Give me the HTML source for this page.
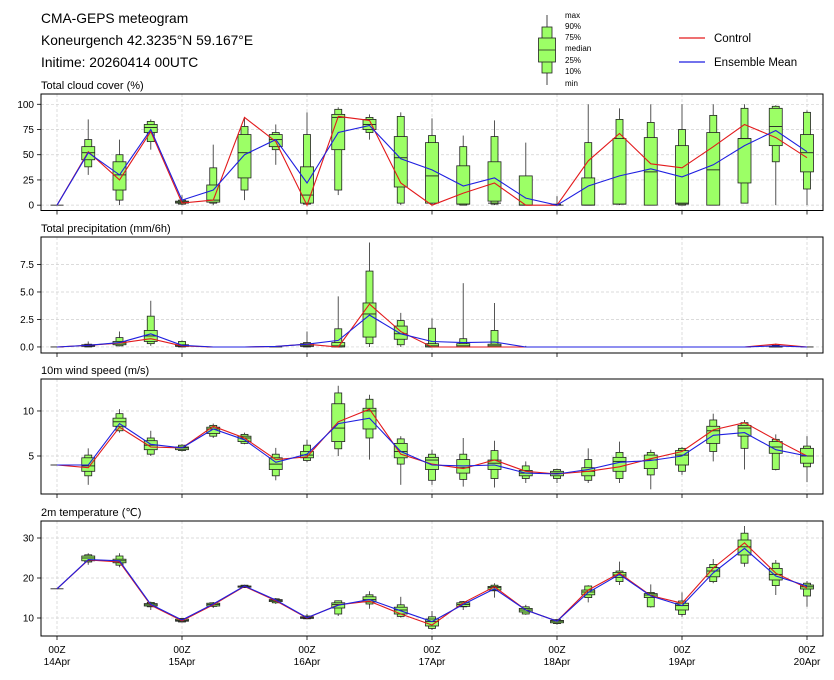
<!DOCTYPE html>
<html><head><meta charset="utf-8">
<style>
body{margin:0;background:#fff;}
svg{display:block;font-family:"Liberation Sans","DejaVu Sans",sans-serif;}
</style></head>
<body>
<svg id="chart" width="834" height="680" viewBox="0 0 834 680">
<text x="41" y="23" font-size="13.8" fill="#000">CMA-GEPS meteogram</text>
<text x="41" y="45" font-size="13.8" fill="#000">Koneurgench 42.3235°N 59.167°E</text>
<text x="41" y="67" font-size="13.8" fill="#000">Initime: 20260414 00UTC</text>
<g>
<line x1="547" y1="15" x2="547" y2="85" stroke="#444" stroke-width="1"/>
<rect x="542" y="27" width="10" height="46" fill="#9cff66" stroke="#222" stroke-width="0.8"/>
<rect x="538.5" y="38" width="17" height="24" fill="#9cff66" stroke="#222" stroke-width="0.8"/>
<line x1="538.5" y1="50" x2="555.5" y2="50" stroke="#222" stroke-width="0.8"/>
<g font-size="8" fill="#000">
<text x="565" y="18">max</text><text x="565" y="29">90%</text><text x="565" y="40">75%</text><text x="565" y="51">median</text><text x="565" y="63">25%</text><text x="565" y="74">10%</text><text x="565" y="86">min</text>
</g></g>
<g>
<line x1="679" y1="38" x2="705" y2="38" stroke="#e31a1c" stroke-width="1.2"/>
<text x="714" y="42" font-size="11.5">Control</text>
<line x1="679" y1="62" x2="705" y2="62" stroke="#1f1fe0" stroke-width="1.2"/>
<text x="714" y="66" font-size="11.5">Ensemble Mean</text>
</g>
<g id="plots"></g>
</svg>
<script>
// ---- time axis ----
const dayLabels = ["14Apr","15Apr","16Apr","17Apr","18Apr","19Apr","20Apr"];
const nSteps = 25;
// ---- cloud cover (%) ----
const cloudMin = [0,30,0,55,0,0,5,40,0,10,65,0,0,0,0,0,0,0,0,0,0,0,2,0,0];
const cloudP10 = [0,38,5,63,1,2,15,55,1,15,72,2,2,0,1,0,0,0,1,0,0,0,2,43,16];
const cloudP25 = [0,45,15,72,2,3,27,58,2,55,75,18,2,1,4,0,0,0,1,0,1,0,22,59,33];
const cloudMed = [0,52,30,77,3,5,52,65,10,87,80,47,29,1,2,0,0,0,1,33,2,35,66,78,52];
const cloudP75 = [0,58,43,80,4,20,70,70,38,90,85,68,62,39,43,29,0,27,66,67,59,72,66,96,70];
const cloudP90 = [0,65,50,83,5,37,78,72,70,95,87,88,69,58,68,29,1,62,85,82,75,89,96,98,92];
const cloudMax = [0,85,65,85,10,60,86,80,92,97,90,92,86,69,84,62,9,100,96,100,100,100,100,99,94];
const cloudCtrl = [0,53,25,73,2,5,87,63,0,88,84,22,0,12,22,0,0,44,71,41,37,58,80,67,47];
const cloudMean = [0,52,30,75,5,15,50,65,22,72,79,46,35,19,27,7,0,19,29,36,28,40,59,74,53];
const cloudTicks = [0,25,50,75,100];
// ---- precipitation (mm/6h) ----
const precMin = [0,0,0.05,0.1,0,0,0,0,0,0,0,0,0,0,0,0,0,0,0,0,0,0,0,0,0];
const precP10 = [0,0,0.1,0.3,0,0,0,0,0,0,0.3,0.2,0,0,0,0,0,0,0,0,0,0,0,0,0];
const precP25 = [0,0.05,0.2,0.5,0.05,0,0,0,0.05,0,0.9,0.7,0,0,0,0,0,0,0,0,0,0,0,0,0];
const precMed = [0,0.1,0.35,1.0,0.1,0,0,0,0.15,0.1,3.0,1.2,0.1,0.1,0.1,0,0,0,0,0,0,0,0,0,0];
const precP75 = [0,0.2,0.5,1.5,0.2,0,0,0,0.3,0.4,4.0,1.9,0.3,0.3,0.25,0,0,0,0,0,0,0,0,0.05,0];
const precP90 = [0,0.25,0.85,2.8,0.5,0,0,0,0.4,1.65,6.9,2.4,1.7,0.75,1.5,0,0,0,0,0,0,0,0,0.15,0];
const precMax = [0,0.5,1.4,4.2,0.6,0,0,0.1,1.4,4.6,9.5,3.1,2.6,5.8,4.0,0.1,0,0,0,0,0,0,0,0.3,0];
const precCtrl = [0,0.15,0.35,0.75,0.1,0,0,0.05,0.25,0,3.9,1.4,0,0,0,0,0,0,0,0,0,0,0,0.25,0];
const precMean = [0,0.15,0.4,1.2,0.15,0,0,0.05,0.25,0.6,2.9,1.2,0.5,0.4,0.45,0,0,0,0,0,0,0,0,0.1,0];
const precTicks = [0,2.5,5,7.5];
const precTickLabels = ["0.0","2.5","5.0","7.5"];
// ---- wind speed (m/s) ----
const windMin = [4,1.8,7.6,5.0,5.5,7.0,6.3,2.3,4.3,5.0,4.6,1.8,1.8,1.6,1.5,2.0,2.0,2.0,2.0,1.3,2.9,4.4,3.5,3.4,2.1];
const windP10 = [4,2.8,7.8,5.2,5.6,7.2,6.4,2.8,4.5,5.8,7.0,4.1,2.3,2.4,2.5,2.5,2.5,2.3,2.5,2.9,3.3,5.5,5.85,3.5,3.8];
const windP25 = [4,3.3,8.3,5.7,5.7,7.5,6.6,3.5,4.8,6.6,8.0,4.8,3.5,3.1,3.5,2.8,2.8,2.8,3.3,3.6,4.0,6.4,7.2,5.3,4.2];
const windMed = [4,3.9,8.8,6.2,5.9,8.0,7.0,4.1,5.1,8.1,10.0,5.5,4.55,3.7,4.2,3.1,3.1,3.3,4.4,4.55,5.1,7.8,8.1,6.0,5.0];
const windP75 = [4,4.8,9.2,6.7,6.0,8.2,7.2,4.8,5.5,10.8,10.3,6.4,4.85,4.6,4.55,3.4,3.3,3.7,4.85,5.1,5.6,8.3,8.4,6.6,5.85];
const windP90 = [4,5.1,9.7,7.0,6.2,8.4,7.4,5.2,6.2,12.0,11.3,6.9,5.2,5.2,5.6,3.9,3.5,4.6,5.4,5.4,5.85,9.0,8.7,6.85,6.1];
const windMax = [4,5.85,10.2,7.8,6.3,8.6,7.6,5.9,6.8,12.8,11.8,7.2,5.7,7.0,6.7,4.4,3.6,5.85,6.6,5.7,6.0,9.7,9.0,7.4,7.2];
const windCtrl = [4,3.7,8.2,6.0,5.9,8.3,7.0,4.6,4.9,8.8,10.2,5.2,4.1,3.6,4.55,3.3,3.0,3.3,3.8,4.7,5.5,7.9,8.7,6.8,5.0];
const windMean = [4,4.0,8.6,6.3,5.9,8.0,6.8,4.3,5.2,8.6,9.2,5.5,4.0,3.9,4.0,3.1,3.0,3.5,4.3,4.5,5.0,7.3,7.6,5.7,5.0];
const windTicks = [5,10];
// ---- 2m temperature (°C) ----
const tempMin = [17.3,23.3,22.7,12.0,8.9,12.5,17.5,13.5,9.7,10.5,12.3,10.1,7.0,12.0,15.1,10.8,8.3,13.9,18.25,12.6,10.3,18.7,22.8,15.75,12.8];
const tempP10 = [17.3,24.0,23.2,12.8,9.0,12.9,17.6,13.8,9.8,11.0,13.5,10.4,7.4,12.8,16.8,11.0,8.6,15.1,19.1,12.8,10.9,19.1,23.7,18.1,15.5];
const tempP25 = [17.3,24.3,23.8,13.0,9.2,13.0,17.7,14.1,9.9,12.5,14.0,11.0,8.0,12.9,17.0,11.5,8.8,15.8,20.1,15.1,12.0,20.3,25.75,19.5,17.25];
const tempMed = [17.3,25.0,24.3,13.3,9.4,13.4,17.9,14.4,10.1,13.4,14.6,12.0,9.1,13.4,17.6,12.0,9.2,16.5,20.75,15.75,13.1,21.75,27.8,20.9,17.8];
const tempP75 = [17.3,25.5,24.7,13.6,9.7,13.7,18.0,14.6,10.3,13.8,15.3,12.7,9.75,13.8,17.9,12.4,9.4,17.0,21.4,16.1,13.7,22.6,29.5,22.4,18.25];
const tempP90 = [17.3,25.8,25.5,13.9,9.9,13.8,18.2,14.8,10.5,14.3,15.8,13.3,10.3,14.1,18.2,12.8,9.6,18.0,21.75,16.4,14.25,23.4,31.2,23.7,18.7];
const tempMax = [17.3,26.2,26.2,14.1,10.0,14.0,18.3,15.0,11.0,14.4,16.7,15.3,11.75,14.25,18.7,13.3,9.7,18.2,24.1,18.4,16.4,24.75,33.0,24.5,19.25];
const tempCtrl = [17.3,24.5,24.0,13.2,9.3,13.3,17.9,14.3,10.0,13.3,14.2,11.0,8.25,13.8,17.8,12.0,9.2,17.0,21.2,15.6,13.7,22.5,28.8,21.2,17.5];
const tempMean = [17.3,24.6,24.3,13.4,9.5,13.5,18.0,14.5,10.1,13.2,14.6,11.8,9.1,13.4,17.3,12.0,9.2,16.4,20.9,15.5,13.1,21.3,27.4,20.5,18.0];
const tempTicks = [10,20,30];

const NS = "http://www.w3.org/2000/svg";
const plots = document.getElementById("plots");
const X0 = 41, X1 = 823;
function xScale(i){ return 57 + i * (750 / (nSteps - 1)); }
function mk(tag, attrs, parent){
  const e = document.createElementNS(NS, tag);
  for (const k in attrs) e.setAttribute(k, attrs[k]);
  parent.appendChild(e); return e;
}
const panels = [
  {key:"cloud", title:"Total cloud cover (%)", top:94, bottom:210.5, lo:-5.3, hi:110.2, ticks:cloudTicks, labels:cloudTicks.map(String),
   s:[cloudMin,cloudP10,cloudP25,cloudMed,cloudP75,cloudP90,cloudMax], ctrl:cloudCtrl, mean:cloudMean},
  {key:"precip", title:"Total precipitation (mm/6h)", top:237, bottom:353, lo:-0.55, hi:10.0, ticks:precTicks, labels:precTickLabels,
   s:[precMin,precP10,precP25,precMed,precP75,precP90,precMax], ctrl:precCtrl, mean:precMean},
  {key:"wind", title:"10m wind speed (m/s)", top:379, bottom:494, lo:0.78, hi:13.55, ticks:windTicks, labels:windTicks.map(String),
   s:[windMin,windP10,windP25,windMed,windP75,windP90,windMax], ctrl:windCtrl, mean:windMean},
  {key:"temp", title:"2m temperature (\u2103)", top:521, bottom:636, lo:5.5, hi:34.25, ticks:tempTicks, labels:tempTicks.map(String),
   s:[tempMin,tempP10,tempP25,tempMed,tempP75,tempP90,tempMax], ctrl:tempCtrl, mean:tempMean}
];
panels.forEach(function(p, pi){
  const g = mk("g", {}, plots);
  
  
  const y = v => p.bottom - (v - p.lo) / (p.hi - p.lo) * (p.bottom - p.top);
  const t = mk("text", {x:41, y:p.top - 5, "font-size":11}, g);
  t.textContent = p.title;
  
  
  dayLabels.forEach(function(d, di){
    const gx = xScale(di * 4);
    const gl = mk("line", {x1:gx, x2:gx, y1:p.top, y2:p.bottom, stroke:"#d0d0d0", "stroke-width":0.7, "stroke-dasharray":"3,2"}, g);
    
    
    mk("line", {x1:gx, x2:gx, y1:p.bottom, y2:p.bottom + 4, stroke:"#000", "stroke-width":0.8}, g);
    if (pi === 3) {
      const l1 = mk("text", {x:gx, y:p.bottom + 17, "font-size":10, "text-anchor":"middle"}, g);
      l1.textContent = "00Z";
      
      
      const l2 = mk("text", {x:gx, y:p.bottom + 29, "font-size":10, "text-anchor":"middle"}, g);
      l2.textContent = d;
      
      
    }
  });
  p.ticks.forEach(function(v, ti){
    const ty = y(v);
    const gl = mk("line", {x1:X0, x2:X1, y1:ty, y2:ty, stroke:"#d0d0d0", "stroke-width":0.7, "stroke-dasharray":"3,2"}, g);
    
    
    mk("line", {x1:X0 - 4, x2:X0, y1:ty, y2:ty, stroke:"#000", "stroke-width":0.8}, g);
    const tl = mk("text", {x:X0 - 7, y:ty + 3.5, "font-size":10, "text-anchor":"end"}, g);
    tl.textContent = p.labels[ti];
    
    
  });
  for (let i = 0; i < nSteps; i++) {
    const cx = xScale(i);
    const [mn, p10, p25, md, p75, p90, mx] = p.s.map(a => a[i]);
    const bg = mk("g", {}, g);
    
    
    mk("line", {x1:cx, x2:cx, y1:y(mx), y2:y(p90), stroke:"#555", "stroke-width":1}, bg);
    mk("line", {x1:cx, x2:cx, y1:y(p10), y2:y(mn), stroke:"#555", "stroke-width":1}, bg);
    mk("rect", {x:cx - 3.5, y:y(p90), width:7, height:Math.max(0, y(p10) - y(p90)), fill:"#9cff66", stroke:"#222", "stroke-width":0.8}, bg);
    mk("rect", {x:cx - 6.5, y:y(p75), width:13, height:Math.max(0, y(p25) - y(p75)), fill:"#9cff66", stroke:"#222", "stroke-width":0.8}, bg);
    mk("line", {x1:cx - 6.5, x2:cx + 6.5, y1:y(md), y2:y(md), stroke:"#222", "stroke-width":0.9}, bg);
  }
  const ctrlPts = p.ctrl.map((v, i) => xScale(i).toFixed(1) + "," + y(v).toFixed(1)).join(" ");
  const cl = mk("polyline", {points:ctrlPts, fill:"none", stroke:"#e31a1c", "stroke-width":1.1}, g);
  
  
  const meanPts = p.mean.map((v, i) => xScale(i).toFixed(1) + "," + y(v).toFixed(1)).join(" ");
  const ml = mk("polyline", {points:meanPts, fill:"none", stroke:"#1f1fe0", "stroke-width":1.1}, g);
  
  
  const fr = mk("rect", {x:X0, y:p.top, width:X1 - X0, height:p.bottom - p.top, fill:"none", stroke:"#000", "stroke-width":1}, g);
  
  
});
</script>
</body></html>
